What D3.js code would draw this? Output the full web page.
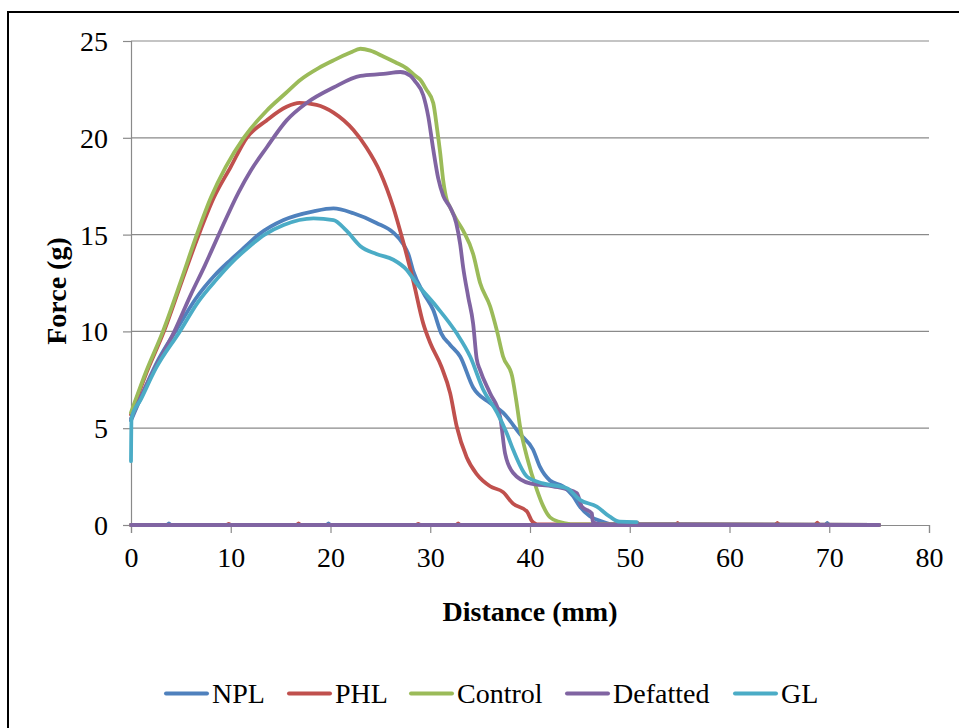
<!DOCTYPE html>
<html>
<head>
<meta charset="utf-8">
<script src="https://cdn.jsdelivr.net/npm/d3@7"></script>
<style>
  html, body { margin: 0; padding: 0; background: #fff; }
  svg { display: block; }
  text { font-family: "Liberation Serif", "Times New Roman", serif; fill: #000; }
</style>
</head>
<body>
<svg id="chart" width="959" height="728"></svg>
<script>
// ---- Data (distance mm, force g) ----
const seriesNames = ["NPL", "PHL", "Control", "Defatted", "GL"];
const seriesColors = ["#4F81BD", "#C0504D", "#9BBB59", "#8064A2", "#4BACC6"];
const xTicks = [0, 10, 20, 30, 40, 50, 60, 70, 80];
const yTicks = [0, 5, 10, 15, 20, 25];

// forward (loading) pass of each sample
const nplData = [[0,5.4],[1,6.6],[2.5,8.3],[4.7,10.2],[6.5,11.7],[8.4,12.9],[10,13.7],[11.5,14.4],[12.8,15],[15.3,15.75],[18.3,16.2],[20.3,16.35],[22.3,16.1],[24.6,15.6],[26.3,15.1],[27.3,14.5],[27.8,14.0],[28.3,13.1],[29.3,12.0],[30.3,11.1],[31.1,9.9],[32,9.3],[33,8.7],[34.3,7.1],[36,6.3],[37.3,5.8],[39,4.7],[40.3,3.9],[41,3.0],[42,2.3],[43.3,2],[44.3,1.5],[45,0.95],[46,0.45],[47.3,0.17],[48,0.05]];
const phlData = [[0,5.7],[1.5,7.8],[3.3,10],[5.1,12.6],[6.8,15],[8.3,16.9],[10,18.5],[11.6,20],[13.6,20.9],[15.6,21.6],[16.9,21.8],[18.6,21.7],[20.3,21.3],[22.3,20.4],[23.6,19.5],[25,18.2],[26.3,16.4],[27.3,14.6],[28.3,12.6],[29.3,10.4],[30,9.4],[31.1,8.2],[32,6.8],[32.65,5.1],[33.65,3.5],[34.7,2.6],[36,2],[37.3,1.7],[38.3,1.1],[39.7,0.7],[40.2,0.2],[40.6,0.05]];
const controlData = [[0,5.8],[1.5,7.9],[3.2,10],[5,12.6],[6.6,15],[8,16.9],[9.5,18.5],[11.3,20],[13.6,21.4],[15.5,22.3],[17,23],[18.8,23.6],[20.3,24],[22,24.4],[23,24.6],[24,24.5],[25.3,24.2],[26.5,23.9],[27.6,23.6],[28.5,23.2],[29,23],[29.6,22.5],[30.3,21.8],[30.7,20.4],[31,19.2],[31.3,17.8],[31.65,16.8],[32,16.4],[32.6,15.8],[33.3,15.2],[34.3,14],[35,12.5],[36,11.3],[36.7,10],[37.3,8.7],[38.2,7.7],[38.6,6.5],[39,5.1],[39.7,3.5],[40.7,1.8],[41.3,1.0],[42,0.4],[43,0.15],[44,0.05]];
const defattedData = [[0,5.5],[2,7.7],[4.35,10],[6,11.9],[7.4,13.4],[8.8,15],[10.8,17.2],[12,18.3],[13.6,19.5],[15.6,20.9],[17.6,21.8],[20.3,22.6],[23,23.2],[25.3,23.3],[27,23.4],[28,23.2],[28.5,22.9],[29.3,22.2],[29.8,21.1],[30.3,19.4],[30.8,17.9],[31.3,17],[32,16.4],[32.6,15.6],[33,14.5],[33.3,13.3],[33.8,11.8],[34.3,10.4],[34.65,8.6],[35,8],[36,6.8],[37,5.6],[37.5,3.7],[38.3,2.7],[40,2.15],[42.3,2],[44.7,1.65],[45.2,0.95],[46.2,0.6],[46.3,0.15],[47,0.05]];
const glData = [[0,3.3],[0.05,5.5],[1,6.5],[2.5,8.1],[4.9,10],[6.7,11.5],[8.6,12.7],[10,13.5],[11.9,14.4],[13.4,15],[15.3,15.5],[18.3,15.84],[20.3,15.75],[21.6,15.2],[23,14.4],[24.6,14.0],[26.3,13.7],[27.6,13.2],[28.6,12.5],[30.6,11.3],[32.65,9.9],[34,8.7],[35.3,7],[36.7,5.8],[37.7,4.7],[38.3,3.9],[39.7,2.5],[41.3,2.15],[43.7,1.9],[45,1.3],[46.7,0.95],[48,0.43],[49,0.17],[50.7,0.15]];

// near-zero trail out to 75 mm and back (return pass)
const nplTrail = [[75,0],[70,0],[69.8,0.1],[69.6,0],[20,0],[19.8,0.08],[19.6,0],[4,0],[3.8,0.08],[3.6,0],[0,0]];
const phlTrail = [[75,0],[69,0],[68.8,0.12],[68.6,0],[65,0],[64.8,0.1],[64.6,0],[55,0],[54.8,0.1],[54.6,0],[51,0],[50.8,0.1],[50.6,0],[33,0],[32.8,0.08],[32.6,0],[29,0],[28.8,0.06],[28.6,0],[17,0],[16.8,0.08],[16.6,0],[10,0],[9.8,0.06],[9.6,0],[0,0]];
const controlTrail = [[75,0],[0,0]];
const defattedTrail = [[75,0],[0,0]];
const glTrail = [];

const allData = [nplData, phlData, controlData, defattedData, glData];
const allTrails = [nplTrail, phlTrail, controlTrail, defattedTrail, glTrail];

// ---- Layout ----
const svg = d3.select("#chart");
const plotLeft = 131, plotRight = 929, plotTop = 41, plotBottom = 525;
const x = d3.scaleLinear().domain([0, 80]).range([plotLeft, plotRight]);
const y = d3.scaleLinear().domain([0, 25]).range([plotBottom, plotTop]);
const gridColor = "#8a8a8a";

// border frame
svg.append("rect").attr("x", 8).attr("y", 12).attr("width", 1100).attr("height", 1100)
  .attr("fill", "none").attr("stroke", "#000").attr("stroke-width", 2);

// gridlines
svg.append("g").selectAll("line").data(yTicks.filter(d => d > 0)).join("line")
  .attr("x1", plotLeft).attr("x2", plotRight)
  .attr("y1", d => y(d)).attr("y2", d => y(d))
  .attr("stroke", gridColor).attr("stroke-width", 1.2);

// axes
const xAxis = d3.axisBottom(x).tickValues(xTicks).tickSize(8).tickPadding(22).tickFormat(d3.format("d"));
const yAxis = d3.axisLeft(y).tickValues(yTicks).tickSize(8).tickPadding(22).tickFormat(d3.format("d"));

const gx = svg.append("g").attr("transform", `translate(0,${plotBottom})`).call(xAxis);
const gy = svg.append("g").attr("transform", `translate(${plotLeft},0)`).call(yAxis);
[gx, gy].forEach(g => {
  g.select(".domain").attr("stroke", gridColor).attr("stroke-width", 1.2);
  g.selectAll(".tick line").attr("stroke", gridColor).attr("stroke-width", 1.2);
  g.selectAll(".tick text").attr("font-family", "Liberation Serif, Times New Roman, serif")
    .attr("font-size", 28).attr("fill", "#000");
});
gx.selectAll(".tick text").attr("dy", "0.71em").attr("y", 22);
gy.selectAll(".tick text").attr("x", -23).attr("dy", "0.34em");

// lines
const smoothLine = d3.line().x(d => x(d[0])).y(d => y(d[1])).curve(d3.curveMonotoneX);
const straightLine = d3.line().x(d => x(d[0])).y(d => y(d[1]));
const linesG = svg.append("g");
allData.forEach((data, i) => {
  const trail = allTrails[i];
  let d = smoothLine(data);
  if (trail.length) d += "L" + straightLine([data[data.length - 1]].concat(trail)).slice(1);
  linesG.append("path")
    .attr("d", d)
    .attr("fill", "none")
    .attr("stroke", seriesColors[i])
    .attr("stroke-width", 3.8)
    .attr("stroke-linejoin", "round")
    .attr("stroke-linecap", "round");
});

// axis titles
svg.append("text").attr("x", (plotLeft + plotRight) / 2).attr("y", 621)
  .attr("text-anchor", "middle").attr("font-size", 28).attr("font-weight", "bold")
  .text("Distance (mm)");
svg.append("text").attr("transform", `translate(66,${291}) rotate(-90)`)
  .attr("text-anchor", "middle").attr("font-size", 28).attr("font-weight", "bold")
  .text("Force (g)");

// legend
const legendX = [166, 289, 411, 567, 735];
const lg = svg.append("g");
seriesNames.forEach((name, i) => {
  lg.append("line").attr("x1", legendX[i]).attr("x2", legendX[i] + 41)
    .attr("y1", 693.5).attr("y2", 693.5)
    .attr("stroke", seriesColors[i]).attr("stroke-width", 4).attr("stroke-linecap", "round");
  lg.append("text").attr("x", legendX[i] + 46).attr("y", 703)
    .attr("font-size", 28).text(name);
});
</script>
</body>
</html>
